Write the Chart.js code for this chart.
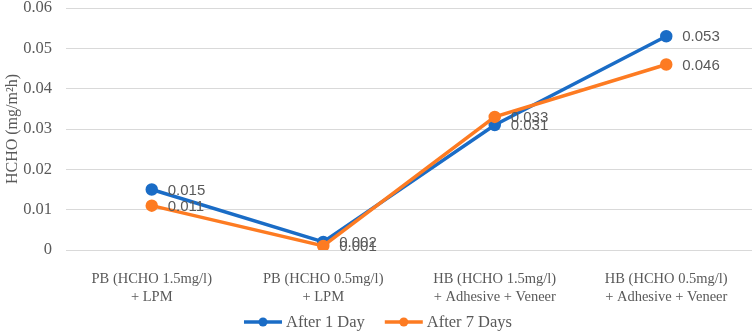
<!DOCTYPE html>
<html>
<head>
<meta charset="utf-8">
<script src="https://cdn.jsdelivr.net/npm/chart.js@4/dist/chart.umd.min.js"></script>
<style>
  html, body { margin: 0; padding: 0; background: #fff; }
  #wrap { width: 754px; height: 335px; }
</style>
</head>
<body>
<div id="wrap"><canvas id="myCanvas" width="754" height="335"></canvas></div>
<script>
const categories = [
  ["PB (HCHO 1.5mg/l)", "+ LPM"],
  ["PB (HCHO 0.5mg/l)", "+ LPM"],
  ["HB (HCHO 1.5mg/l)", "+ Adhesive + Veneer"],
  ["HB (HCHO 0.5mg/l)", "+ Adhesive + Veneer"]
];
const after1Day = [0.015, 0.002, 0.031, 0.053];
const after7Days = [0.011, 0.001, 0.033, 0.046];
const yTicks = [0, 0.01, 0.02, 0.03, 0.04, 0.05, 0.06];

const BLUE = "#1a6cc6";
const ORANGE = "#fd7b22";
const GREY = "#595959";
const SERIF = "'Liberation Serif', 'Times New Roman', serif";
const SANS = "'Liberation Sans', Arial, sans-serif";

// value labels to the right of each point
const valueLabels = {
  id: "valueLabels",
  afterDatasetsDraw(chart) {
    const ctx = chart.ctx;
    ctx.save();
    ctx.font = "15px " + SANS;
    ctx.fillStyle = GREY;
    ctx.textAlign = "left";
    ctx.textBaseline = "middle";
    chart.data.datasets.forEach((ds, i) => {
      chart.getDatasetMeta(i).data.forEach((pt, j) => {
        ctx.fillText(ds.data[j].toFixed(3), pt.x + 16, pt.y + 1);
      });
    });
    ctx.restore();
  }
};

// excel style legend: line with a dot, then the name
const lineLegend = {
  id: "lineLegend",
  afterDraw(chart) {
    const ctx = chart.ctx;
    const y = 322;
    ctx.save();
    ctx.font = "16.5px " + SERIF;
    const items = chart.data.datasets.map(ds => ({
      text: ds.label, color: ds.borderColor, w: 42 + ctx.measureText(ds.label).width
    }));
    const gap = 20;
    const total = items.reduce((s, it) => s + it.w, 0) + gap * (items.length - 1);
    let x = (chart.width - total) / 2 + 1;
    items.forEach(it => {
      ctx.strokeStyle = it.color;
      ctx.lineWidth = 3.5;
      ctx.beginPath();
      ctx.moveTo(x, y);
      ctx.lineTo(x + 38, y);
      ctx.stroke();
      ctx.fillStyle = it.color;
      ctx.beginPath();
      ctx.arc(x + 19, y, 4.5, 0, Math.PI * 2);
      ctx.fill();
      ctx.fillStyle = GREY;
      ctx.textAlign = "left";
      ctx.textBaseline = "middle";
      ctx.fillText(it.text, x + 42, y + 1);
      x += it.w + gap;
    });
    ctx.restore();
  }
};

new Chart(document.getElementById("myCanvas"), {
  type: "line",
  data: {
    labels: categories,
    datasets: [
      {
        label: "After 1 Day",
        data: after1Day,
        borderColor: BLUE,
        backgroundColor: BLUE,
        borderWidth: 3.5,
        pointRadius: 4.5,
        pointHoverRadius: 4.5,
        tension: 0,
        order: 1
      },
      {
        label: "After 7 Days",
        data: after7Days,
        borderColor: ORANGE,
        backgroundColor: ORANGE,
        borderWidth: 3.5,
        pointRadius: 4.5,
        pointHoverRadius: 4.5,
        tension: 0,
        order: 0
      }
    ]
  },
  options: {
    responsive: false,
    animation: false,
    devicePixelRatio: 1,
    layout: { autoPadding: false, padding: { left: 3, right: 2, top: 8, bottom: 0 } },
    plugins: {
      legend: { display: false },
      tooltip: { enabled: false }
    },
    scales: {
      x: {
        offset: true,
        grid: { display: false },
        border: { display: false },
        ticks: {
          color: GREY,
          padding: 12,
          maxRotation: 0,
          autoSkip: false,
          font: { family: SERIF, size: 14.5, lineHeight: 1.25 }
        },
        afterFit(scale) {
          scale.height = 85;
          scale.paddingTop = 0;
          scale.paddingBottom = 0;
          scale.paddingLeft = 0;
          scale.paddingRight = 0;
        }
      },
      y: {
        min: 0,
        max: 0.06,
        afterBuildTicks(scale) { scale.ticks = yTicks.map(v => ({ value: v })); },
        grid: { color: "#d9d9d9", lineWidth: 1, drawTicks: false },
        border: { display: false },
        ticks: {
          color: GREY,
          padding: 14,
          font: { family: SERIF, size: 16.5 },
          callback: v => (v === 0 ? "0" : v.toFixed(2))
        },
        title: {
          display: true,
          text: "HCHO (mg/m²h)",
          color: GREY,
          padding: 0,
          font: { family: SERIF, size: 16 }
        },
        afterFit(scale) {
          scale.width = 63;
          scale.paddingTop = 0;
          scale.paddingBottom = 0;
        }
      }
    }
  },
  plugins: [valueLabels, lineLegend]
});
</script>
</body>
</html>
